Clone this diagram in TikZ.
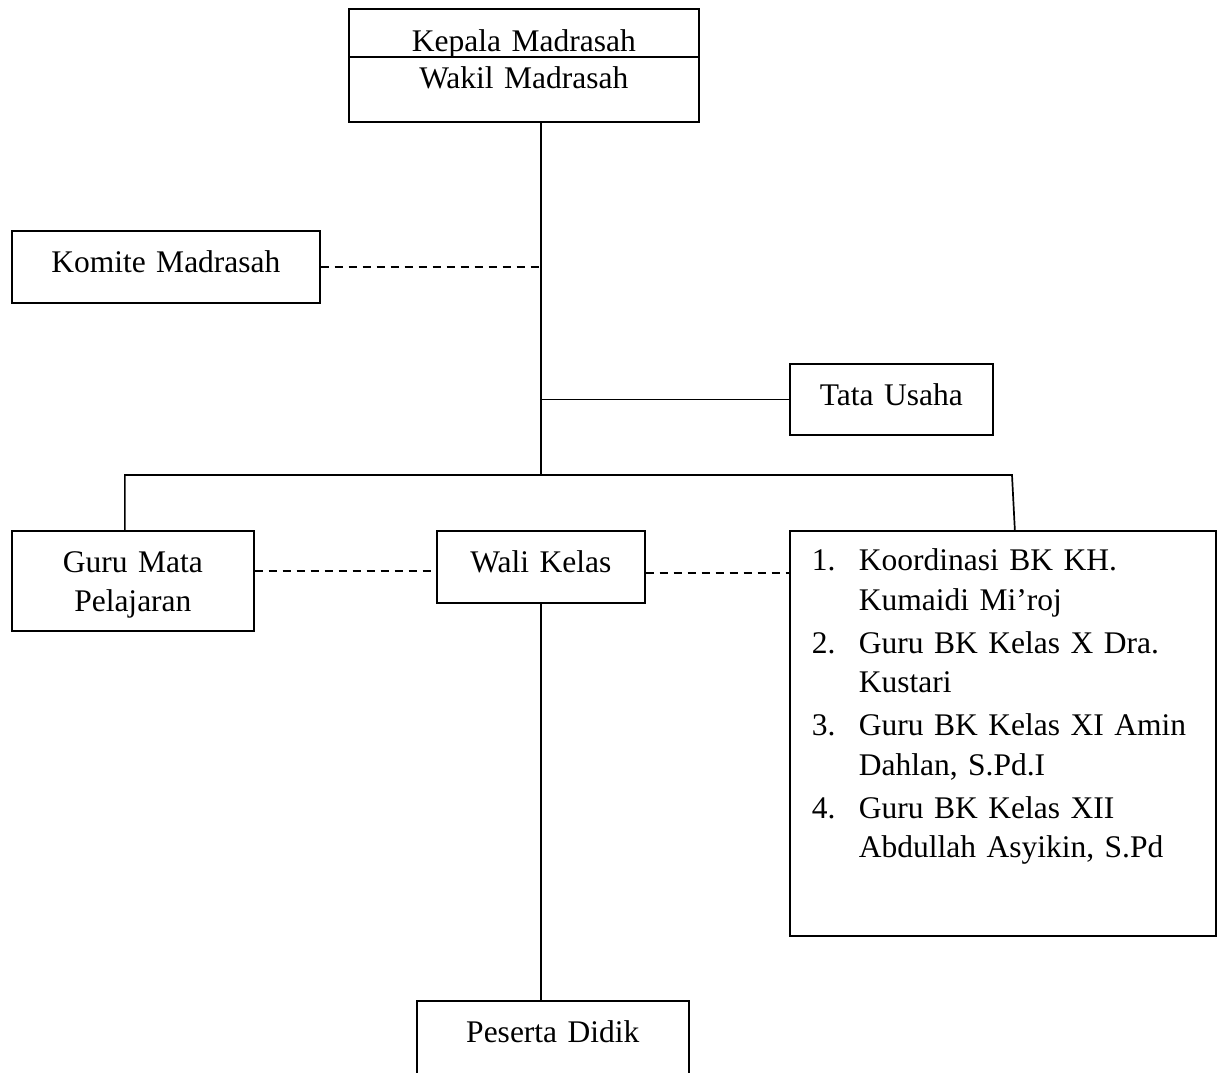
\documentclass[tikz,border=0pt]{standalone}
\usepackage{fontspec}
\setmainfont{Liberation Serif}
\usetikzlibrary{positioning}
\newcommand{\bkitem}[2]{\makebox[47pt][l]{#1}#2}
\newcommand{\bkcont}[1]{\hspace*{47pt}#1}
\tikzset{
  every picture/.style={line width=1.7pt},
  orgbox/.style={draw, inner sep=0pt, align=center, text height=42pt, anchor=north west},
  link/.style={draw},
  dotlink/.style={draw, dash pattern=on 8pt off 6pt},
}
\begin{document}
\begin{tikzpicture}[x=1pt, y=-1pt, every node/.append style={font={\fontsize{31.5}{39.5}\selectfont}}]
  \useasboundingbox (0,0) rectangle (1221,1072);
  \clip (0,0) rectangle (1221,1072);
  % head of the madrasah
  \node[orgbox, text width=350pt, text height=43pt, text depth=70pt] (kepala) at (348,8) {Kepala Madrasah\\[-2.5pt]Wakil Madrasah};
  \draw[link] ([yshift=-49pt]kepala.north west) -- ([yshift=-49pt]kepala.north east);
  % single boxes
  \foreach \name/\x/\y/\w/\d/\txt in {komite/11/230/308/30/{Komite Madrasah}, tata/789/363/203/29/{Tata Usaha}, guru/11/530/242/58/{Guru Mata\\[-0.5pt]Pelajaran}, wali/436/530/208/30/{Wali Kelas}, peserta/416/1000/272/32/{Peserta Didik}} {
    \node[orgbox, text width=\w pt, text depth=\d pt] (\name) at (\x,\y) {\txt};
  }
  % counselling teachers
  \node[orgbox, inner xsep=22pt, text width=382pt, text height=40pt, text depth=365pt, align=left] (bk) at (789,530) {%
    \bkitem{1.}{Koordinasi BK KH.}\\ \bkcont{Kumaidi Mi’roj}\\[3.5pt]
    \bkitem{2.}{Guru BK Kelas X Dra.}\\ \bkcont{Kustari}\\[3.5pt]
    \bkitem{3.}{Guru BK Kelas XI Amin}\\ \bkcont{Dahlan, S.Pd.I}\\[3.5pt]
    \bkitem{4.}{Guru BK Kelas XII}\\ \bkcont{Abdullah Asyikin, S.Pd}};
  % lines
  \coordinate (bus) at (541,475);
  \coordinate (busend) at (1012,475);
  \draw[link] (kepala.south -| bus) -- (bus);
  \draw[dotlink] (komite.east) -- (komite.east -| bus);
  \draw[link] (tata.west) -- (tata.west -| bus);
  \draw[link] ([xshift=-8pt]guru.north) |- (bus) -- (busend) -- ([xshift=12pt]bk.north);
  \coordinate (gw) at ([yshift=-4pt]wali.west);
  \coordinate (wb) at ([yshift=-6pt]wali.east);
  \draw[dotlink] (gw -| guru.east) -- (gw);
  \draw[dotlink] (wb) -- (wb -| bk.west);
  \draw[link] (wali.south) -- (wali.south |- peserta.north);
\end{tikzpicture}
\end{document}
